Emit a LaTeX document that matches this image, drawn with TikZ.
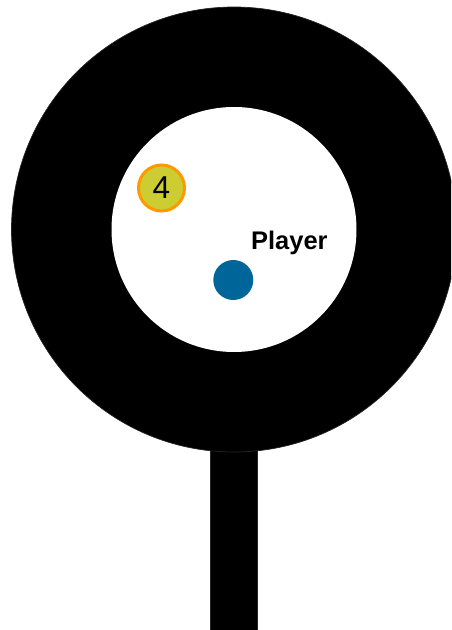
\documentclass[tikz,border=0pt]{standalone}
\usepackage{fontspec}
\setmainfont{Liberation Sans}
\usepackage{tikz}
\usetikzlibrary{positioning}

\definecolor{tokenfill}{RGB}{204,204,51}
\definecolor{tokenedge}{RGB}{255,153,0}
\definecolor{playerblue}{RGB}{0,102,153}

\begin{document}
\begin{tikzpicture}[
  x=0.02cm, y=0.02cm,
  wall/.style={fill=black, draw=black!85, line width=0.4pt},
  token/.style={circle, fill=tokenfill, draw=tokenedge, line width=0.06cm,
                minimum size=0.92cm, inner sep=0pt,
                font=\fontsize{18pt}{20pt}\selectfont},
  agent/.style={circle, fill=playerblue, minimum size=0.8cm, inner sep=0pt},
  tag/.style={inner sep=0pt, font=\fontsize{14.5pt}{16pt}\selectfont\bfseries},
]
  \useasboundingbox (0,0) rectangle (451,630);
  \begin{scope}
    \clip (0,0) rectangle (451,630);
    % ring with stem
    \fill[wall] (210.7,0) rectangle (257.3,200);
    \fill[wall] (234,400.5) circle[radius=222.5];
    \fill[white] (234,400.5) circle[radius=122.5];
  \end{scope}

  \node[token] (four)   at (161.5,442) {4};
  \node[agent] (player) at (233.3,350) {};
  \node[tag, anchor=base west] (name) at (250.8,380) {Player};
\end{tikzpicture}
\end{document}
